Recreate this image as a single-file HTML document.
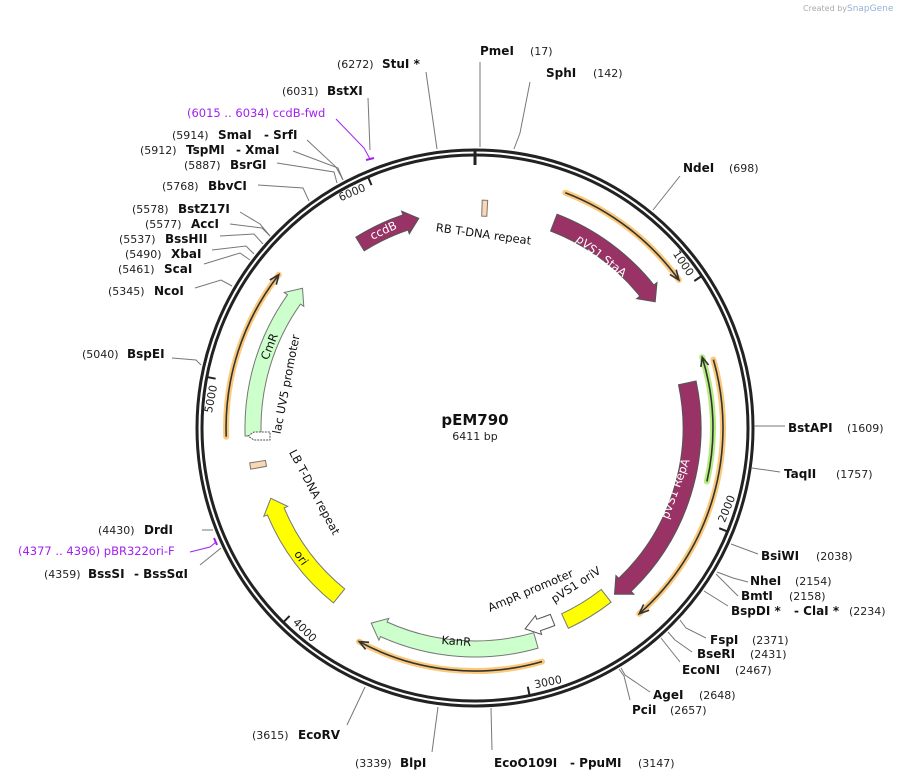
<!DOCTYPE html>
<html><head><meta charset="utf-8"><style>
html,body{margin:0;padding:0;background:#fff;width:900px;height:781px;overflow:hidden}
svg{display:block}
text{font-family:"DejaVu Sans","Liberation Sans",sans-serif}
.n{font-size:11px;fill:#222}
.b{font-size:12px;font-weight:bold;fill:#111}
.p{font-size:11.5px;fill:#a020f0}
.f{font-size:11.5px;fill:#111}
.w{font-size:11.5px;fill:#fff}
.l{stroke:#777;stroke-width:1;fill:none}
</style></head><body>
<svg id="s" width="900" height="781" viewBox="0 0 900 781" xmlns="http://www.w3.org/2000/svg">
<text x="803" y="11" style="font-size:8px;fill:#aaa">Created by</text><text x="847" y="11" style="font-size:9px;fill:#8fb3d9">SnapGene</text>
<circle cx="475" cy="428" r="278" fill="none" stroke="#222" stroke-width="3"/>
<circle cx="475" cy="428" r="273" fill="none" stroke="#222" stroke-width="3"/>
<line x1="475" y1="150" x2="475" y2="165" stroke="#222" stroke-width="3"/>
<g id="feat"></g>
<path d="M248,436 L254,432 L270,432 L270,440 L254,440 Z" fill="#fff" stroke="#555" stroke-width="1" stroke-dasharray="2,1"/>
<g class="l">
<polyline points="437,149 426,72"/>
<polyline points="480,147 480,62"/>
<polyline points="514,149 520,133 530,82"/>
<polyline points="653,210 680,176"/>
<polyline points="754,426 785,426"/>
<polyline points="752,468 780,472"/>
<polyline points="731,544 758,554"/>
<polyline points="717,572 733,578 748,582"/>
<polyline points="716,574 738,596"/>
<polyline points="704,591 728,606"/>
<polyline points="680,620 686,628 706,638"/>
<polyline points="668,632 675,640 692,652"/>
<polyline points="661,638 680,662"/>
<polyline points="621,668 625,675 650,692"/>
<polyline points="619,669 624,676 630,700"/>
<polyline points="491,708 492,750"/>
<polyline points="438,707 432,752"/>
<polyline points="365,687 347,725"/>
<polyline points="221,548 200,565"/>
<polyline points="213,530 202,530"/>
<polyline points="201,365 196,360 172,358"/>
<polyline points="232,286 221,280 195,288"/>
<polyline points="250,260 240,253 204,264"/>
<polyline points="254,254 246,246 212,250"/>
<polyline points="263,244 254,234 220,236"/>
<polyline points="270,236 262,228 230,224"/>
<polyline points="270,236 260,224 240,212"/>
<polyline points="309,201 303,188 258,185"/>
<polyline points="337,183 334,172 277,163"/>
<polyline points="343,180 338,168 293,151"/>
<polyline points="343,180 336,167 307,140"/>
<polyline points="370,150 368,98"/>
</g>
<polyline points="370,159 364,148 336,119" fill="none" stroke="#a020f0" stroke-width="1"/>
<line x1="366" y1="160" x2="374" y2="158" stroke="#a020f0" stroke-width="2"/>
<polyline points="216,542 210,547 190,552" fill="none" stroke="#a020f0" stroke-width="1"/>
<line x1="214" y1="538" x2="217" y2="545" stroke="#a020f0" stroke-width="2"/>
<text class="n" x="337" y="68">(6272)</text><text class="b" x="382" y="68">StuI *</text>
<text class="b" x="480" y="55">PmeI</text><text class="n" x="530" y="55">(17)</text>
<text class="b" x="546" y="77">SphI</text><text class="n" x="593" y="77">(142)</text>
<text class="n" x="282" y="95">(6031)</text><text class="b" x="327" y="95">BstXI</text>
<text class="p" x="187" y="117">(6015 .. 6034)  ccdB-fwd</text>
<text class="n" x="172" y="139">(5914)</text><text class="b" x="218" y="139">SmaI</text><text class="b" x="264" y="139">- SrfI</text>
<text class="n" x="140" y="154">(5912)</text><text class="b" x="186" y="154">TspMI</text><text class="b" x="236" y="154">- XmaI</text>
<text class="n" x="184" y="169">(5887)</text><text class="b" x="230" y="169">BsrGI</text>
<text class="n" x="162" y="190">(5768)</text><text class="b" x="208" y="190">BbvCI</text>
<text class="n" x="132" y="213">(5578)</text><text class="b" x="178" y="213">BstZ17I</text>
<text class="n" x="145" y="228">(5577)</text><text class="b" x="191" y="228">AccI</text>
<text class="n" x="119" y="243">(5537)</text><text class="b" x="165" y="243">BssHII</text>
<text class="n" x="125" y="258">(5490)</text><text class="b" x="171" y="258">XbaI</text>
<text class="n" x="118" y="273">(5461)</text><text class="b" x="164" y="273">ScaI</text>
<text class="n" x="108" y="295">(5345)</text><text class="b" x="154" y="295">NcoI</text>
<text class="n" x="82" y="358">(5040)</text><text class="b" x="127" y="358">BspEI</text>
<text class="n" x="98" y="534">(4430)</text><text class="b" x="144" y="534">DrdI</text>
<text class="p" x="18" y="555">(4377 .. 4396)  pBR322ori-F</text>
<text class="n" x="44" y="578">(4359)</text><text class="b" x="88" y="578">BssSI</text><text class="b" x="134" y="578">- BssSαI</text>
<text class="n" x="252" y="739">(3615)</text><text class="b" x="298" y="739">EcoRV</text>
<text class="n" x="355" y="767">(3339)</text><text class="b" x="400" y="767">BlpI</text>
<text class="b" x="494" y="767">EcoO109I</text><text class="b" x="570" y="767">- PpuMI</text><text class="n" x="638" y="767">(3147)</text>
<text class="b" x="653" y="699">AgeI</text><text class="n" x="699" y="699">(2648)</text>
<text class="b" x="632" y="714">PciI</text><text class="n" x="670" y="714">(2657)</text>
<text class="b" x="682" y="674">EcoNI</text><text class="n" x="735" y="674">(2467)</text>
<text class="b" x="697" y="658">BseRI</text><text class="n" x="750" y="658">(2431)</text>
<text class="b" x="710" y="644">FspI</text><text class="n" x="752" y="644">(2371)</text>
<text class="b" x="731" y="615">BspDI *</text><text class="b" x="794" y="615">- ClaI *</text><text class="n" x="849" y="615">(2234)</text>
<text class="b" x="741" y="600">BmtI</text><text class="n" x="789" y="600">(2158)</text>
<text class="b" x="750" y="585">NheI</text><text class="n" x="795" y="585">(2154)</text>
<text class="b" x="761" y="560">BsiWI</text><text class="n" x="816" y="560">(2038)</text>
<text class="b" x="784" y="478">TaqII</text><text class="n" x="836" y="478">(1757)</text>
<text class="b" x="788" y="432">BstAPI</text><text class="n" x="847" y="432">(1609)</text>
<text class="b" x="683" y="172">NdeI</text><text class="n" x="729" y="172">(698)</text>
<text x="475" y="425" text-anchor="middle" style="font-size:15px;font-weight:bold;fill:#111">pEM790</text>
<text x="475" y="440" text-anchor="middle" style="font-size:11px;fill:#222">6411 bp</text>
<g id="lab">
<text class="w" transform="translate(385,234) rotate(-25)" text-anchor="middle">ccdB</text>
<text class="w" transform="translate(599,259) rotate(38)" text-anchor="middle">pVS1 StaA</text>
<text class="w" transform="translate(679,490) rotate(-70)" text-anchor="middle">pVS1 RepA</text>
<text class="f" transform="translate(456,645) rotate(4)" text-anchor="middle">KanR</text>
<text class="f" transform="translate(298,560) rotate(55)" text-anchor="middle">ori</text>
<text class="f" transform="translate(273,348) rotate(-68)" text-anchor="middle">CmR</text>
<text class="f" transform="translate(483,238) rotate(8)" text-anchor="middle">RB T-DNA repeat</text>
<text class="f" transform="translate(290,385) rotate(-79)" text-anchor="middle">lac UV5 promoter</text>
<text class="f" transform="translate(311,494) rotate(62)" text-anchor="middle">LB T-DNA repeat</text>
<text class="f" transform="translate(532,594) rotate(-23)" text-anchor="middle">AmpR promoter</text>
<text class="f" transform="translate(578,588) rotate(-33)" text-anchor="middle">pVS1 oriV</text>
</g>
<g id="ticks"></g>
</svg>
<script>
var cx=475,cy=428,NS="http://www.w3.org/2000/svg";
function P(r,d){var a=d*Math.PI/180;return (cx+r*Math.sin(a)).toFixed(1)+","+(cy-r*Math.cos(a)).toFixed(1);}
function A(r,a1,a2,sw){var lg=Math.abs(a2-a1)>180?1:0;return " A"+r+","+r+" 0 "+lg+" "+sw+" "+P(r,a2);}
function add(g,tag,at){var e=document.createElementNS(NS,tag);for(var k in at)e.setAttribute(k,at[k]);document.getElementById(g).appendChild(e);return e;}
function arrow(r,w,a1,a2,dir,fill,stroke){
 var h=14/r*180/Math.PI,o=r+w/2,i=r-w/2,d;
 if(dir==1){d="M"+P(o,a1)+A(o,a1,a2-h,1)+" L"+P(o+4,a2-h)+" L"+P(r,a2)+" L"+P(i-4,a2-h)+" L"+P(i,a2-h)+A(i,a2-h,a1,0)+" Z";}
 else if(dir==-1){d="M"+P(r,a1)+" L"+P(o+4,a1+h)+" L"+P(o,a1+h)+A(o,a1+h,a2,1)+" L"+P(i,a2)+A(i,a2,a1+h,0)+" L"+P(i-4,a1+h)+" Z";}
 else {d="M"+P(o,a1)+A(o,a1,a2,1)+" L"+P(i,a2)+A(i,a2,a1,0)+" Z";}
 add("feat","path",{d:d,fill:fill,stroke:stroke,"stroke-width":1});
}
function prim(r,a1,a2,dir,col){
 var d="M"+P(r,a1)+A(r,a1,a2,1);
 add("feat","path",{d:d,fill:"none",stroke:col,"stroke-width":6,"stroke-linecap":"round"});
 add("feat","path",{d:d,fill:"none",stroke:"#333","stroke-width":1.6});
 var t=dir==1?a2:a1,b=dir==1?a2-2.2:a1+2.2;
 add("feat","path",{d:"M"+P(r-4,b)+" L"+P(r,t)+" L"+P(r+4,b),fill:"none",stroke:"#333","stroke-width":1.6});
}
var M="#993366";
arrow(217,16,328,345,1,M,"#555");
arrow(220,18,21,55,1,M,"#555");
arrow(217,18,78,140,1,M,"#555");
arrow(213,16,142,155,0,"#ffff00","#777");
arrow(207,12,158,166,1,"#fff","#555");
arrow(221,16,164,208,1,"#ccffcc","#777");
arrow(216,18,219,251,1,"#ffff00","#777");
arrow(222,16,268,309,1,"#ccffcc","#777");
arrow(220,16,1.8,3.2,0,"#fad7b0","#777");
arrow(220,16,259.6,261.2,0,"#fad7b0","#777");
prim(252,21,54,1,"#fbc97a");
prim(248,74,138.5,1,"#fbc97a");
prim(243,164,208.5,1,"#fbc97a");
prim(249,268,308,1,"#fbc97a");
prim(238,72.7,103,-1,"#b5ec7f");
for(var k=1;k<=6;k++){var th=k*1000/6411*360;
 add("ticks","path",{d:"M"+P(272,th)+" L"+P(264,th),stroke:"#222","stroke-width":2});
 var rot=(th<90)?th:(th>270?th-360:th-180);
 var pt=P(265,th-4.5).split(",");
 var t=add("ticks","text",{x:pt[0],y:pt[1],"text-anchor":"middle","dominant-baseline":"middle",transform:"rotate("+rot.toFixed(1)+" "+pt[0]+" "+pt[1]+")",style:"font-size:11px;fill:#222"});
 t.textContent=String(k*1000);}
</script>
</body></html>
